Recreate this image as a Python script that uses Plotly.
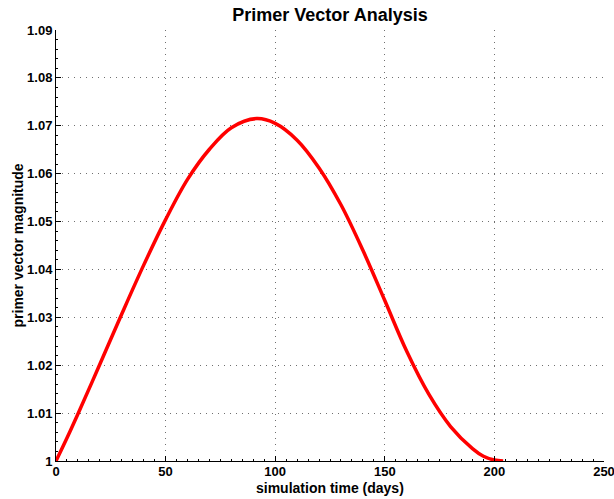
import plotly.graph_objects as go

# simulation time (days)
days = [0, 5, 10, 20, 30, 40, 50, 60, 70, 80, 91.5,
        100, 110, 120, 130, 140, 150, 160, 170, 180, 190, 195, 200, 204]
# primer vector magnitude
magnitude = [1.0000, 1.0048, 1.0098, 1.0202, 1.0307, 1.0409, 1.0504, 1.0588,
             1.0651, 1.0696, 1.0715,
             1.0705, 1.0670, 1.0612, 1.0535, 1.0440, 1.0335, 1.0229, 1.0140,
             1.0072, 1.0026, 1.0010, 1.0002, 1.0000]

x_ticks = [0, 50, 100, 150, 200, 250]
y_ticks = [1, 1.01, 1.02, 1.03, 1.04, 1.05, 1.06, 1.07, 1.08, 1.09]
y_tick_labels = ["1", "1.01", "1.02", "1.03", "1.04", "1.05", "1.06", "1.07", "1.08", "1.09"]

font_family = "Liberation Sans, Arial, sans-serif"

W, H = 614, 499
ML, MR, MT, MB = 56, 10, 30, 38
PW, PH = W - ML - MR, H - MT - MB

fig = go.Figure()
fig.add_trace(go.Scatter(
    x=days, y=magnitude, mode="lines",
    line=dict(color="#ff0000", width=3.5, shape="spline", smoothing=1.0),
    showlegend=False, hoverinfo="skip",
))

axis_common = dict(
    showline=True, linecolor="black", linewidth=1,
    ticks="inside", ticklen=5, tickcolor="black", tickwidth=1,
    showgrid=True, gridcolor="#707070", griddash="1px,5px", gridwidth=1,
    zeroline=False, mirror=False, automargin=False,
    ticklabeloverflow="allow",
    tickfont=dict(family=font_family, size=13, color="black", weight="bold"),
)

fig.update_xaxes(
    range=[0, 250], tickvals=x_ticks, ticktext=[str(v) for v in x_ticks],
    minor=dict(ticks="inside", ticklen=2, tickcolor="black", dtick=5, showgrid=False),
    ticklabelstandoff=-2,
    **axis_common,
)
fig.update_yaxes(
    range=[1, 1.09], tickvals=y_ticks, ticktext=y_tick_labels,
    minor=dict(ticks="inside", ticklen=2, tickcolor="black", dtick=0.002, showgrid=False),
    **axis_common,
)

title_font = dict(family=font_family, size=14, color="black", weight="bold")
fig.add_annotation(
    text="simulation time (days)", xref="paper", yref="paper",
    x=0.5, y=-(488 - (MT + PH)) / PH, xanchor="center", yanchor="middle",
    showarrow=False, font=title_font,
)
fig.add_annotation(
    text="primer vector magnitude", xref="paper", yref="paper",
    x=(17 - ML) / PW, y=0.5, xanchor="center", yanchor="middle",
    textangle=-90, showarrow=False, font=title_font,
)

fig.update_layout(
    width=W, height=H,
    margin=dict(l=ML, r=MR, t=MT, b=MB),
    paper_bgcolor="white", plot_bgcolor="white",
    title=dict(text="Primer Vector Analysis", x=(ML + PW / 2) / W, xanchor="center",
               y=1 - 15 / H, yanchor="middle",
               font=dict(family=font_family, size=18, color="black", weight="bold")),
)

# remove the default 8px page margin so the figure fills the window exactly
fig.write_html("out.html",
               config={"displayModeBar": False, "staticPlot": True},
               post_script="document.body.style.margin='0';document.body.style.overflow='hidden';")
